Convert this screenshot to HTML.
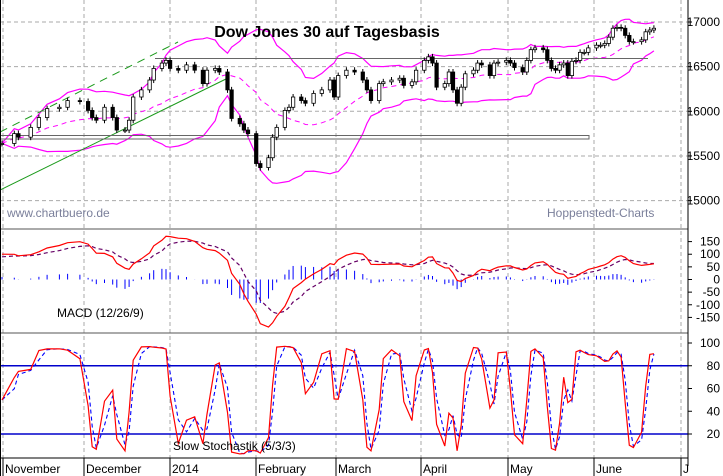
<!DOCTYPE html>
<html><head><meta charset="utf-8"><style>
html,body{margin:0;padding:0;background:#fff;}
svg{display:block;font-family:"Liberation Sans",sans-serif;}
</style></head><body>
<svg id="chart" width="723" height="476" viewBox="0 0 723 476">
<defs>
<clipPath id="cp"><rect x="0" y="0" width="688" height="229"/></clipPath>
<clipPath id="cm"><rect x="0" y="229" width="688" height="104"/></clipPath>
<clipPath id="cs"><rect x="0" y="333" width="688" height="125"/></clipPath>
</defs>
<g id="grid"></g>
<g id="price" clip-path="url(#cp)"></g>
<g id="macd" clip-path="url(#cm)"></g>
<g id="stoch" clip-path="url(#cs)"></g>
<g id="axes"></g>
<text x="327" y="37" text-anchor="middle" font-size="16" font-weight="bold" fill="#000">Dow Jones 30 auf Tagesbasis</text>
<text x="7" y="217" font-size="12" fill="#7a7f9a">www.chartbuero.de</text>
<text x="547" y="217" font-size="12" fill="#7a7f9a">Hoppenstedt-Charts</text>
<text x="57" y="317" font-size="12" fill="#000">MACD (12/26/9)</text>
<text x="173" y="450" font-size="12" fill="#000">Slow Stochastik (5/3/3)</text>
</svg>
<script>
const days=[0,3,4,7,9,11,14,16,19,21,22,23,25,27,28,30,31,32,34,36,37,39,40,41,43,45,47,49,50,52,53,55,56,58,59,60,62,63,65,66,67,69,70,71,73,74,76,78,80,81,82,84,86,88,89,90,92,93,95,97,98,100,101,103,104,105,106,108,109,110,111,112,113,115,116,117,119,120,121,123,124,125,127,128,129,130,132,133,134,135,136,137,138,139,140,141,142,143,145,146,147,148,149,150,151,152,153,154,156,157,158,159];
const closes=[15640,15750,15710,15820,15930,16030,16045,16120,16110,16010,15930,15900,16045,15930,15790,15790,15900,16160,16240,16350,16480,16540,16570,16480,16460,16520,16460,16310,16460,16480,16440,16240,15920,15860,15790,15750,15415,15370,15480,15710,15820,16010,16045,16160,16120,16090,16200,16240,16350,16160,16400,16460,16440,16350,16240,16120,16310,16330,16350,16370,16290,16330,16460,16570,16610,16540,16270,16310,16440,16240,16090,16270,16420,16460,16540,16520,16400,16540,16550,16570,16540,16490,16440,16570,16690,16710,16690,16570,16480,16460,16520,16540,16400,16560,16570,16660,16660,16710,16740,16740,16760,16830,16930,16940,16930,16850,16780,16780,16800,16890,16910,16930];
const priorMacd=[100,90]; // MACD and signal level carried in from before the visible range
const priceTicks=[17000,16500,16000,15500,15000];
const macdTicks=[150,100,50,0,-50,-100,-150];
const stochTicks=[100,80,60,40,20];
const months=["November","December","2014","February","March","April","May","June","J"];
const monthX=[3,84,170,256,336,421,508,594,681];

const NS="http://www.w3.org/2000/svg";
function mk(tag,attrs,parent){const e=document.createElementNS(NS,tag);for(const k in attrs)e.setAttribute(k,attrs[k]);parent.appendChild(e);return e;}
const n=closes.length;
const xi=i=>2+days[i]*4.1;
const yp=p=>22+(17000-p)*0.0893;
const ym=v=>279.5-v*0.2527;
const ys=v=>343+(100-v)*1.1375;
const G=document.getElementById('grid'),P=document.getElementById('price'),M=document.getElementById('macd'),S=document.getElementById('stoch'),A=document.getElementById('axes');

priceTicks.forEach(t=>{const l=mk('line',{x1:0,x2:688,y1:yp(t),y2:yp(t),stroke:'#aaa','stroke-dasharray':'4,3'},G);

});
monthX.forEach(x=>{const l=mk('line',{x1:x,x2:x,y1:0,y2:458,stroke:'#aaa','stroke-dasharray':'4,3'},G);

});

function sma(a,p){return a.map((v,i)=>{const s=a.slice(Math.max(0,i-p+1),i+1);return s.reduce((x,y)=>x+y,0)/s.length;});}
function ema(a,p,seed){const k=2/(p+1);let r=[];a.forEach((v,i)=>r.push(i?v*k+r[i-1]*(1-k):(seed!==undefined?seed:v)));return r;}
const mid=sma(closes,15);
const sd=closes.map((v,i)=>{const s=closes.slice(Math.max(0,i-14),i+1);const m=mid[i];return Math.sqrt(s.reduce((x,y)=>x+(y-m)*(y-m),0)/s.length);});
const up=mid.map((m,i)=>m+2*sd[i]),lo=mid.map((m,i)=>m-2*sd[i]);
function path(arr,fy){return arr.map((v,i)=>(i?'L':'M')+xi(i).toFixed(1)+','+fy(v).toFixed(1)).join('');}

let e=mk('path',{d:path(up,yp),fill:'none',stroke:'#ff00ff','stroke-width':1.2},P);


e=mk('path',{d:path(lo,yp),fill:'none',stroke:'#ff00ff','stroke-width':1.2},P);


e=mk('path',{d:path(mid,yp),fill:'none',stroke:'#ff00ff','stroke-width':1,'stroke-dasharray':'5,4'},P);



e=mk('line',{x1:0,y1:190,x2:228,y2:78,stroke:'#1a9a1a','stroke-width':1},P);


e=mk('line',{x1:0,y1:132,x2:178,y2:42,stroke:'#1a9a1a','stroke-width':1,'stroke-dasharray':'8,6'},P);


e=mk('line',{x1:155,y1:58.5,x2:648,y2:58.5,stroke:'#666','stroke-width':1},P);


e=mk('rect',{x:-1,y:135.5,width:590,height:3.5,fill:'none',stroke:'#666','stroke-width':1},P);



closes.forEach((c,i)=>{const o=i?closes[i-1]:c;const x=xi(i);const yt=yp(Math.max(o,c)),yb=yp(Math.min(o,c));
const w=mk('line',{x1:x,x2:x,y1:yt-3,y2:yb+3,stroke:'#000','stroke-width':1},P);


const b=mk('rect',{x:x-1.7,y:yt,width:3.4,height:Math.max(1,yb-yt),fill:c>=o?'#fff':'#000',stroke:'#000','stroke-width':0.8},P);

});

// MACD (periods scaled to the sampled sequence)
const e12=ema(closes,9,closes[0]),e26=ema(closes,18,closes[0]-priorMacd[0]);
const macd=e12.map((v,i)=>v-e26[i]);
const sig=ema(macd,6,priorMacd[1]);
macd.forEach((v,i)=>{const h=(v-sig[i]);const l=mk('line',{x1:xi(i),x2:xi(i),y1:ym(0),y2:ym(h),stroke:'#0000ff','stroke-width':1},M);

});
e=mk('path',{d:path(sig,ym),fill:'none',stroke:'#660066','stroke-width':1.2,'stroke-dasharray':'4,3'},M);


e=mk('path',{d:path(macd,ym),fill:'none',stroke:'#ff0000','stroke-width':1.2},M);



const rawK=closes.map((c,i)=>{const s=closes.slice(Math.max(0,i-3),i+1);const mx=Math.max(...s)+15,mn=Math.min(...s)-15;return (c-mn)/(mx-mn)*100;});
const slowK=sma(rawK,2),slowD=sma(slowK,2);
[80,20].forEach(v=>{const l=mk('line',{x1:0,x2:688,y1:ys(v),y2:ys(v),stroke:'#0000cc','stroke-width':1.5},S);

});
e=mk('path',{d:path(slowD,ys),fill:'none',stroke:'#0000ff','stroke-width':1.1,'stroke-dasharray':'4,3'},S);


e=mk('path',{d:path(slowK,ys),fill:'none',stroke:'#ff0000','stroke-width':1.2},S);



[229,333].forEach(y=>{const l=mk('line',{x1:0,x2:688,y1:y,y2:y,stroke:'#555','stroke-width':1},A);

});
e=mk('line',{x1:688,x2:688,y1:0,y2:466,stroke:'#000','stroke-width':1},A);


e=mk('line',{x1:0,x2:688,y1:458,y2:458,stroke:'#000','stroke-width':1},A);


e=mk('line',{x1:0.5,x2:0.5,y1:0,y2:476,stroke:'#000','stroke-width':1},A);


function ticks(arr,fy,name){arr.forEach(t=>{const y=fy(t);
const l=mk('line',{x1:688,x2:692,y1:y,y2:y,stroke:'#000'},A);


const tx=mk('text',{x:720,y:y+4,'text-anchor':'end','font-size':12,fill:'#000'},A);tx.textContent=t;

});}
ticks(priceTicks,yp,'price');ticks(macdTicks,ym,'macd');ticks(stochTicks,ys,'stochastic');
months.forEach((m,i)=>{const x=monthX[i];
const l=mk('line',{x1:x,x2:x,y1:458,y2:476,stroke:'#000'},A);


const t=mk('text',{x:x+2,y:473,'font-size':12,fill:'#000'},A);t.textContent=m;

});
</script>
</body></html>
